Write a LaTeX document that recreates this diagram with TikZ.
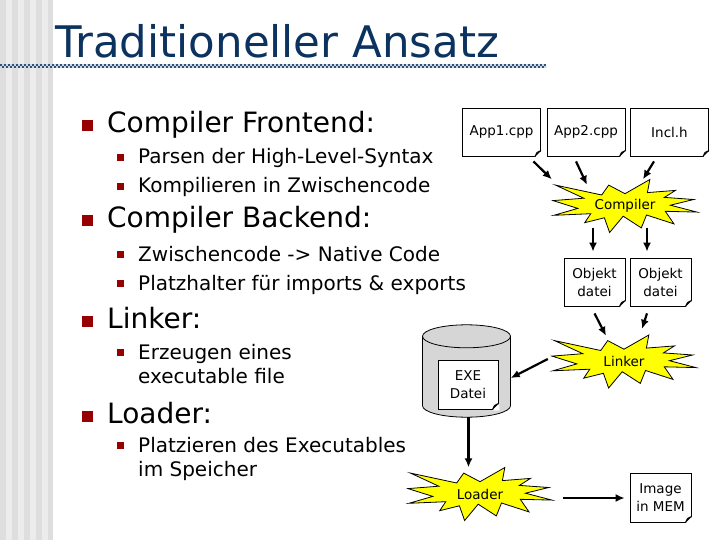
\documentclass[tikz,border=0pt]{standalone}
\usepackage{fontspec}
\setmainfont{DejaVu Sans}
\usetikzlibrary{calc,arrows.meta}

\definecolor{titleblue}{RGB}{12,50,96}
\definecolor{bulletred}{RGB}{150,0,0}
\definecolor{burstyellow}{RGB}{255,255,0}
\definecolor{cylgray}{RGB}{214,214,214}
\definecolor{stripedark}{RGB}{222,222,222}
\definecolor{stripelight}{RGB}{236,236,236}
\definecolor{rulelight}{RGB}{205,214,228}

\begin{document}
\begin{tikzpicture}[x=1pt, y=-1pt]
        \tikzset{item/.style={anchor=base west, inner sep=0pt, font=\fontsize{28}{33}\selectfont}}
        \tikzset{subitem/.style={anchor=base west, inner sep=0pt, font=\fontsize{20}{24}\selectfont}}
        \tikzset{bullet/.style={fill=bulletred, minimum size=11pt, inner sep=0pt}}
        \tikzset{subbullet/.style={fill=bulletred, minimum size=7pt, inner sep=0pt}}
        \tikzset{doc/.style={
            draw,
            fill=white,
            line width=0.8pt,
            align=center,
            inner sep=0pt,
            font=\fontsize{13.5}{18}\selectfont
        }}
        \tikzset{arrow/.style={
            line width=2.2pt,
            -{Latex[length=9pt, width=8pt]}
        }}
        \tikzset{burst/.pic={
            \draw[fill=burstyellow, line width=0.8pt] (0,-12.3) -- (24.8,-26.5) -- (22.4,-13.4) -- (50.5,-15.6) -- (39.4,-8.6) -- (68.7,-6.5) -- (45.4,-0.8) -- (72,6.1) -- (40.3,5.3) -- (49,17.9) -- (21.5,9) -- (16.3,21.9) -- (-1.8,10.2) -- (-15.4,26.5) -- (-20.6,11.8) -- (-40.3,16.7) -- (-34.2,7.7) -- (-71.1,9.3) -- (-47.2,2.4) -- (-72,-5.4) -- (-41.2,-7.8) -- (-69.5,-20.9) -- (-23.3,-11) -- (-16.3,-20.9) -- cycle;
            \node[minimum width=144pt, minimum height=53pt, inner sep=0pt, font=\fontsize{13.5}{18}\selectfont] (-c) {#1};
        }}

        \useasboundingbox (0,0) rectangle (720,540);
        \fill[white] (0,0) rectangle (720,540);
        % left band
        \fill[stripedark] (0,0) rectangle (53,540);
        \foreach \x in {6,18,30,42} {
            \fill[stripelight] (\x,0) rectangle ++(6,540);
        }

        % title
        \node[anchor=base west, inner sep=0pt, text=titleblue, font=\fontsize{43.5}{50}\selectfont] (title) at (55,58) {Traditioneller Ansatz};
        \draw[line width=4pt, rulelight] (0,66) -- (546,66);
        \draw[line width=2pt, titleblue!85, dash pattern=on 2pt off 2pt] (0,65) -- (546,65);
        \draw[line width=2pt, titleblue!85, dash pattern=on 2pt off 2pt, dash phase=2pt] (0,67) -- (546,67);

        % bullet list
        \node[bullet] (b1) at (87,126) {};
        \node[item] (frontend) at (107,133) {Compiler Frontend:};
        \node[subbullet] (b11) at (120,157.5) {};
        \node[subitem] (parse) at (138,164) {Parsen der High-Level-Syntax};
        \node[subbullet] (b12) at (120,186.5) {};
        \node[subitem] (kompil) at (138,193) {Kompilieren in Zwischencode};
        \node[bullet] (b2) at (87,221) {};
        \node[item] (backend) at (107,228) {Compiler Backend:};
        \node[subbullet] (b21) at (120,254.5) {};
        \node[subitem] (native) at (138,261) {Zwischencode -> Native Code};
        \node[subbullet] (b22) at (120,283.5) {};
        \node[subitem] (platz) at (138,290) {Platzhalter für imports \& exports};
        \node[bullet] (b3) at (87,321) {};
        \node[item] (linkeritem) at (107,328) {Linker:};
        \node[subbullet] (b31) at (120,352.5) {};
        \node[subitem] (erz1) at (138,359) {Erzeugen eines};
        \node[subitem] (erz2) at (138,383) {executable file};
        \node[bullet] (b4) at (87,416) {};
        \node[item] (loaderitem) at (107,423) {Loader:};
        \node[subbullet] (b41) at (120,445.5) {};
        \node[subitem] (pl1) at (138,452) {Platzieren des Executables};
        \node[subitem] (pl2) at (138,476) {im Speicher};

        % sources and compiler
        \node[doc, minimum width=78pt, minimum height=48pt] (app1) at (501.5,132) {App1.cpp};
        \node[doc, minimum width=78pt, minimum height=48pt] (app2) at (586,132) {App2.cpp};
        \node[doc, minimum width=78pt, minimum height=48pt] (incl) at (669.5,132) {Incl.h};
        \pic (comp) at (625,206) {burst=Compiler};
        \node[doc, minimum width=61pt, minimum height=48pt] (obj1) at (594.5,282) {Objekt\\datei};
        \node[doc, minimum width=61pt, minimum height=48pt] (obj2) at (660.5,282) {Objekt\\datei};
        \pic (link) at (624,361.5) {burst=Linker};

        % exe on disk
        \node[minimum width=88pt, minimum height=92pt, inner sep=0pt] (exe) at (466.5,371) {};
        \fill[cylgray] ($(exe.north west)+(0,11.5)$) rectangle ($(exe.south east)+(0,-11.5)$);
        \draw[fill=cylgray, line width=0.8pt] ($(exe.south)+(0,-11.5)$) ellipse [x radius=44pt, y radius=11.5pt];
        \fill[cylgray] ($(exe.north west)+(0,11.5)$) rectangle ($(exe.south east)+(0,-11.5)$);
        \draw[line width=0.8pt] ($(exe.north west)+(0,11.5)$) -- ($(exe.south west)+(0,-11.5)$);
        \draw[line width=0.8pt] ($(exe.north east)+(0,11.5)$) -- ($(exe.south east)+(0,-11.5)$);
        \draw[fill=cylgray, line width=0.8pt] ($(exe.north)+(0,11.5)$) ellipse [x radius=44pt, y radius=11.5pt];
        \node[doc, minimum width=60pt, minimum height=49pt] (exefile) at (468,384.5) {EXE\\Datei};

        \pic (load) at (480,494) {burst=Loader};
        \node[doc, minimum width=61pt, minimum height=49pt] (img) at (660.5,497.5) {Image\\in MEM};

        % folded corners
        \foreach \d in {app1,app2,incl,obj1,obj2,exefile,img} {
            \fill[white] ([xshift=-6pt,yshift=-1pt]\d.south east) -- ([xshift=1pt,yshift=-1pt]\d.south east) -- ([xshift=1pt,yshift=6pt]\d.south east) -- cycle;
            \draw[fill=black!15, line width=0.8pt, line join=round] ([xshift=-6pt]\d.south east) -- ([xshift=-4pt,yshift=4pt]\d.south east) -- ([yshift=6pt]\d.south east) -- cycle;
        }

        \draw[arrow] ($(app1.south east)+(-7.5,5)$) -- ($(comp-c.north west)+(-1,0)$);
        \draw[arrow] ($(app2.south)+(-10,5)$) -- ($(comp-c.north)+(-38,5.5)$);
        \draw[arrow] ($(incl.south)+(-15.5,5)$) -- ($(comp-c.north)+(18,0)$);
        \draw[arrow] ($(comp-c.south)+(-32,-5)$) -- ($(obj1.north)+(-1.5,-6)$);
        \draw[arrow] ($(comp-c.south)+(22,-5)$) -- ($(obj2.north)+(-13.5,-6)$);
        \draw[arrow] ($(obj1.south)+(0,7)$) -- ($(link-c.north)+(-18,1)$);
        \draw[arrow] ($(obj2.south)+(-13.5,7)$) -- ($(link-c.north)+(18,-6)$);
        \draw[arrow] ($(link-c.west)+(-4,-2.5)$) -- ($(exe.east)+(0,7)$);
        \draw[arrow] ([xshift=2pt]exe.south) -- ([xshift=2pt]exe.south |- load-c.north);
        \draw[arrow, line width=1.8pt] ($(load-c.east)+(11,4)$) -- ($(img.west)+(-5,0.5)$);
\end{tikzpicture}
\end{document}
